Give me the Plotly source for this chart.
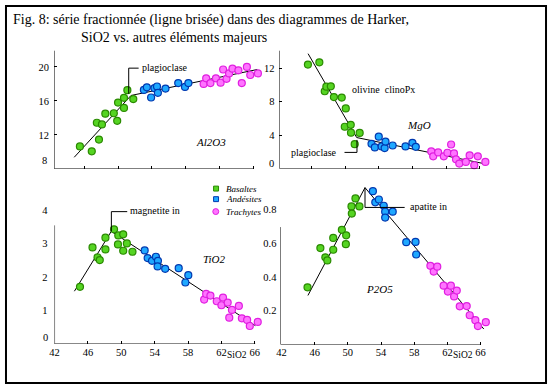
import plotly.graph_objects as go

# ---------------- data ----------------
# Al2O3 vs SiO2
al_bas_si = [45.5, 46.9, 47.75, 47.5, 48.1, 48.5, 49.5, 49.9, 50.0, 50.7, 50.7, 51.1, 51.8]
al_bas = [10.64, 10.06, 11.45, 13.43, 13.23, 14.5, 14.55, 13.66, 15.8, 16.37, 15.17, 17.27, 16.22]
al_and_si = [53.05, 53.4, 53.9, 54.3, 54.6, 54.7, 55.6, 57.1, 57.9, 58.3]
al_and = [17.3, 17.6, 16.4, 17.5, 17.7, 16.95, 17.45, 18.1, 17.65, 18.1]
al_tra_si = [60.1, 60.4, 60.9, 61.55, 62.1, 62.4, 62.8, 63.1, 63.5, 64.2, 64.6, 65.2, 65.6, 66.5]
al_tra = [18.0, 18.66, 18.1, 18.66, 18.15, 19.7, 18.6, 19.24, 19.8, 19.6, 18.1, 20.0, 19.05, 19.24]
al_trend_si = [44.83, 51.53, 66.43]
al_trend = [9.36, 16.64, 19.7]

# MgO vs SiO2
mg_bas_si = [45.58, 46.94, 47.58, 47.77, 48.3, 48.67, 49.6, 50.08, 49.96, 50.67, 50.7, 51.73, 51.14]
mg_bas = [12.43, 12.7, 9.25, 9.8, 9.84, 8.55, 8.5, 7.2, 5.02, 5.25, 4.31, 4.28, 2.94]
mg_and_si = [53.14, 53.53, 54.0, 54.35, 54.7, 54.8, 55.65, 57.18, 58.0, 58.4]
mg_and = [2.98, 2.55, 3.84, 2.67, 2.47, 3.25, 2.78, 2.67, 3.1, 2.63]
mg_tra_si = [60.24, 60.47, 61.06, 61.73, 62.16, 62.6, 62.94, 63.18, 63.57, 64.35, 64.8, 65.35, 65.77, 66.67]
mg_tra = [2.08, 1.49, 1.96, 1.49, 1.92, 2.9, 1.84, 1.14, 0.63, 0.82, 1.61, 0.43, 1.49, 0.82]
mg_trend_si = [45.6, 51.38, 66.47]
mg_trend = [13.73, 3.73, 0.63]

# TiO2 vs SiO2
ti_bas_si = [45.05, 46.55, 47.15, 47.42, 48.1, 48.1, 49.13, 49.64, 49.6, 50.23, 50.23, 50.67, 51.34]
ti_bas = [1.71, 2.89, 2.59, 2.51, 3.18, 2.83, 3.43, 3.25, 2.98, 3.28, 2.79, 3.01, 2.76]
ti_and_si = [52.8, 53.16, 53.68, 54.15, 54.39, 54.35, 55.26, 56.88, 58.03, 57.68]
ti_and = [2.8, 2.57, 2.49, 2.61, 2.49, 2.32, 2.25, 2.27, 2.06, 1.84]
ti_tra_si = [59.93, 60.17, 60.68, 61.44, 62.0, 62.19, 62.75, 62.94, 63.26, 64.09, 64.45, 65.08, 65.4, 66.35]
ti_tra = [1.33, 1.5, 1.45, 1.28, 1.16, 1.39, 1.24, 0.79, 1.02, 1.14, 0.77, 0.72, 0.54, 0.66]
ti_trend_si = [44.38, 48.8, 66.07]
ti_trend = [1.58, 3.37, 0.55]

# P2O5 vs SiO2
p_bas_si = [45.14, 46.69, 47.29, 47.53, 48.24, 48.24, 49.28, 49.80, 49.76, 50.44, 50.48, 50.92, 51.40]
p_bas = [0.338, 0.57, 0.515, 0.497, 0.56, 0.63, 0.678, 0.645, 0.593, 0.816, 0.774, 0.863, 0.816]
p_and_si = [53.02, 53.31, 53.74, 54.33, 54.50, 54.50, 55.41, 57.04, 58.16, 58.24]
p_and = [0.906, 0.84, 0.857, 0.82, 0.785, 0.75, 0.785, 0.605, 0.606, 0.532]
p_tra_si = [59.95, 60.35, 60.78, 61.55, 62.06, 62.42, 62.81, 63.13, 63.49, 64.33, 64.69, 65.37, 65.68, 66.63]
p_tra = [0.465, 0.431, 0.46, 0.348, 0.313, 0.348, 0.284, 0.319, 0.226, 0.227, 0.173, 0.144, 0.109, 0.132]
p_trend_si = [45.19, 52.07, 66.39]
p_trend = [0.29, 0.927, 0.0915]

sio2_ticks = [42, 46, 50, 54, 58, 62, 66]
group_names = ["Basaltes", "Andésites", "Trachytes"]

# ---------------- styling ----------------
W, H = 548, 385
SERIF = "Liberation Serif"
FILL = ["#55d422", "#1fa8ff", "#ff74ff"]
EDGE = ["#2a8a00", "#0038b0", "#e01fe0"]


def fx(p):
    return p / W


def fy(p):
    return 1 - p / H


fig = go.Figure()

panels = [
    ("", [(al_bas_si, al_bas), (al_and_si, al_and), (al_tra_si, al_tra)], (al_trend_si, al_trend)),
    ("2", [(mg_bas_si, mg_bas), (mg_and_si, mg_and), (mg_tra_si, mg_tra)], (mg_trend_si, mg_trend)),
    ("3", [(ti_bas_si, ti_bas), (ti_and_si, ti_and), (ti_tra_si, ti_tra)], (ti_trend_si, ti_trend)),
    ("4", [(p_bas_si, p_bas), (p_and_si, p_and), (p_tra_si, p_tra)], (p_trend_si, p_trend)),
]

for suf, groups, trend in panels:
    xa, ya = "x" + suf, "y" + suf
    fig.add_trace(go.Scatter(x=trend[0], y=trend[1], mode="lines", xaxis=xa, yaxis=ya,
                             line=dict(color="black", width=1), showlegend=False, hoverinfo="skip"))
    for i, (sx, sy) in enumerate(groups):
        fig.add_trace(go.Scatter(x=sx, y=sy, mode="markers", xaxis=xa, yaxis=ya, name=group_names[i],
                                 cliponaxis=False, showlegend=False,
                                 marker=dict(size=7, symbol="circle", color=FILL[i],
                                             line=dict(color=EDGE[i], width=1.2))))

TF = dict(family=SERIF, size=10.5, color="black")
axis_common = dict(showgrid=False, zeroline=False, showline=False, ticks="inside", ticklen=3,
                   tickcolor="black", tickfont=TF)

layout_axes = {}
# Al2O3
layout_axes["xaxis"] = dict(axis_common, domain=[fx(49.5), fx(259.5)], range=[42.45, 67.0],
                            tickvals=sio2_ticks[1:], showticklabels=False, anchor="y")
layout_axes["yaxis"] = dict(axis_common, domain=[fy(166), fy(46)], range=[8, 21.95],
                            tickvals=[8, 12, 16, 20], ticktext=["", "12", "16", "20"],
                            anchor="x", ticklabelstandoff=4)
# MgO
layout_axes["xaxis2"] = dict(axis_common, domain=[fx(277), fx(487.6)], range=[42.2, 67.0],
                             tickvals=sio2_ticks[1:], showticklabels=False, anchor="y2")
layout_axes["yaxis2"] = dict(axis_common, domain=[fy(166), fy(46)], range=[0, 14.12],
                             tickvals=[0, 4, 8, 12], ticktext=["", "4", "8", "12"],
                             anchor="x2", ticklabelstandoff=4)
# TiO2
layout_axes["xaxis3"] = dict(axis_common, domain=[fx(50), fx(258)], range=[42.0, 66.7],
                             tickvals=sio2_ticks, ticktext=[str(v) for v in sio2_ticks], anchor="y3",
                             ticklabelstandoff=0)
layout_axes["yaxis3"] = dict(axis_common, ticks="", domain=[fy(343.5), fy(208)], range=[0, 4.0],
                             tickvals=[1, 2, 3, 4], anchor="x3", ticklabelstandoff=6)
# P2O5
layout_axes["xaxis4"] = dict(axis_common, domain=[fx(278), fx(490)], range=[41.88, 67.2],
                             tickvals=sio2_ticks, ticktext=[str(v) for v in sio2_ticks], anchor="y4",
                             ticklabelstandoff=0)
layout_axes["yaxis4"] = dict(axis_common, ticks="", domain=[fy(344), fy(182.8)], range=[0, 0.94],
                             tickvals=[0.2, 0.4, 0.6, 0.8], ticktext=["0.2", "0.4", "0.6", "0.8"],
                             anchor="x4", ticklabelstandoff=3)

shapes = []


def line(xref, yref, x0, y0, x1, y1, w=1):
    shapes.append(dict(type="line", xref=xref, yref=yref, x0=x0, y0=y0, x1=x1, y1=y1,
                       line=dict(color="black", width=w)))


# axis lines (partial, as in the original)
line("x", "y", 42.45, 8, 66.0, 8)
line("x", "y", 42.45, 8, 42.45, 21.95)
line("x2", "y2", 42.2, 0, 66.0, 0)
line("x2", "y2", 42.2, 0, 42.2, 14.12)
line("x3", "y3", 42.0, 0, 66.05, 0)
line("x3", "y3", 42.0, 0, 42.0, 3.55)
line("x4", "y4", 41.88, 0, 66.0, 0)
line("x4", "y4", 41.88, 0, 41.88, 0.694)

# leader lines of the labels
line("x", "y", 51.26, 16.84, 51.26, 19.86)
line("x", "y", 51.26, 19.86, 52.43, 19.86)
line("x2", "y2", 49.93, 1.96, 51.41, 1.96)
line("x2", "y2", 51.41, 1.96, 51.41, 3.45)
line("x3", "y3", 48.81, 3.37, 48.81, 3.96)
line("x3", "y3", 48.81, 3.96, 50.71, 3.96)
line("x4", "y4", 52.07, 0.927, 52.07, 0.81)
line("x4", "y4", 52.07, 0.81, 56.85, 0.81)

# legend swatches
shapes.append(dict(type="rect", xref="paper", yref="paper", x0=fx(210.5), x1=fx(215.5), y0=fy(188.5), y1=fy(183.5),
                   fillcolor=FILL[0], line=dict(color=EDGE[0], width=1)))
shapes.append(dict(type="rect", xref="paper", yref="paper", x0=fx(210.5), x1=fx(215.5), y0=fy(199.2), y1=fy(194.2),
                   fillcolor=FILL[1], line=dict(color=EDGE[1], width=1)))
shapes.append(dict(type="circle", xref="paper", yref="paper", x0=fx(209.7), x1=fx(215.7), y0=fy(212.3), y1=fy(206.3),
                   fillcolor=FILL[2], line=dict(color=EDGE[2], width=1)))

# outer frame
shapes.append(dict(type="rect", xref="paper", yref="paper", x0=fx(1), x1=fx(546), y0=fy(383), y1=fy(1),
                   line=dict(color="black", width=2), fillcolor="rgba(0,0,0,0)"))

ann = []


def text(t, xref, yref, x, y, size=10, italic=False, xanchor="left"):
    ann.append(dict(text=t, xref=xref, yref=yref, x=x, y=y, showarrow=False, xanchor=xanchor,
                    yanchor="middle",
                    font=dict(family=SERIF, size=size, color="black",
                              style="italic" if italic else "normal")))


# title
text("Fig. 8: série fractionnée (ligne brisée) dans des diagrammes de Harker,", "paper", "paper",
     fx(6), fy(15), size=14)
text("SiO2 vs. autres éléments majeurs", "paper", "paper", fx(75), fy(33), size=14)

# panel labels
text("Al2O3", "x", "y", 60.97, 11.14, size=11, italic=True, xanchor="center")
text("MgO", "x2", "y2", 58.79, 5.18, size=11, italic=True, xanchor="center")
text("TiO2", "x3", "y3", 61.2, 2.54, size=11, italic=True, xanchor="center")
text("P2O5", "x4", "y4", 53.86, 0.328, size=11, italic=True, xanchor="center")

# mineral labels
text("plagioclase", "x", "y", 52.62, 19.95, size=10)
text("olivine  clinoPx", "x2", "y2", 50.6, 9.41, size=10)
text("plagioclase", "x2", "y2", 49.3, 2.0, size=10, xanchor="right")
text("magnetite in", "x3", "y3", 50.78, 3.99, size=10)
text("apatite in", "x4", "y4", 57.25, 0.818, size=10)

# bottom tick labels placed a little higher, as in the original
text("8", "paper", "paper", fx(44.5), fy(158), size=10.5, xanchor="right")
text("0", "paper", "paper", fx(273.5), fy(161), size=10.5, xanchor="right")
text("0", "paper", "paper", fx(45.5), fy(337), size=10.5, xanchor="right")

# SiO2 axis titles
text("SiO2", "paper", "paper", fx(234), fy(355), size=9.5, xanchor="center")
text("SiO2", "paper", "paper", fx(462.5), fy(355), size=9.5, xanchor="center")

# legend text
for i, (nm, yy) in enumerate(zip(group_names, [186, 196.7, 209.3])):
    text(nm, "paper", "paper", fx(221), fy(yy), size=9, italic=True)

fig.update_layout(width=W, height=H, margin=dict(l=0, r=0, t=0, b=0),
                  paper_bgcolor="white", plot_bgcolor="rgba(0,0,0,0)",
                  showlegend=False, shapes=shapes, annotations=ann, **layout_axes)

fig.write_html("out.html", config={"displayModeBar": False},
               post_script="document.body.style.margin='0';document.body.style.overflow='hidden';")
